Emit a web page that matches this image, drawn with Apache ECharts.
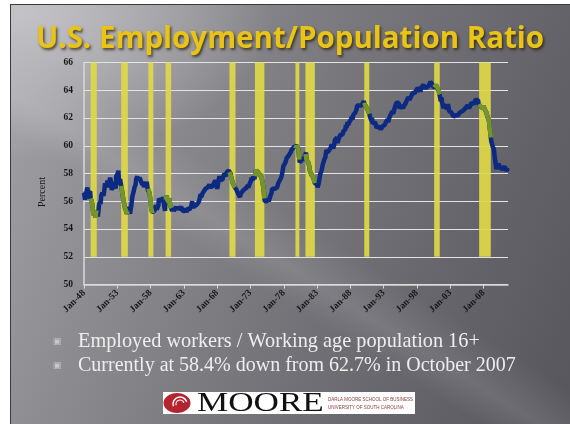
<!DOCTYPE html>
<html>
<head>
<meta charset="utf-8">
<script src="https://cdn.jsdelivr.net/npm/echarts@6/dist/echarts.min.js"></script>
<style>
html,body{margin:0;padding:0;background:#fff;}
#slide{position:absolute;left:10px;top:4px;width:560px;height:420px;box-sizing:border-box;
border-left:1px solid #3a3a3a;border-top:1px solid #3a3a3a;
background:
 radial-gradient(ellipse 45% 35% at 2% 2%, rgba(200,200,205,0.85) 0%, rgba(200,200,205,0) 100%),
 linear-gradient(32deg, rgba(255,255,255,0) 38%, rgba(255,255,255,0.10) 43%, rgba(255,255,255,0) 50%),
 linear-gradient(110deg, #a3a3a7 0%, #8d8d91 25%, #78777c 50%, #66656b 75%, #58565d 100%);}
#chart{position:absolute;left:0;top:0;width:570px;height:424px;}
</style>
</head>
<body>
<div id="slide"></div>
<div id="chart"></div>
<script>
// ---- Data (employment / population ratio, monthly, percent) ----
const epop1948_1949 = [56.6,56.7,56.1,56.7,56.2,56.8,57.0,56.6,56.6,56.5,56.6,56.7,
 56.2,56.2,56.0,55.7,55.4,55.0,55.0,55.1,55.2,54.8,55.3,55.2];
const epop1950s = [
 55.1,54.9,55.0,55.7,55.6,56.0,55.8,56.4,56.5,56.6,56.6,56.4,
 56.6,56.7,57.3,57.0,57.3,57.0,57.5,57.2,57.0,57.2,57.1,57.7,
 57.5,57.3,56.8,57.0,57.4,57.4,56.9,56.9,57.2,56.9,57.8,57.9,
 57.8,58.0,58.2,57.4,57.2,57.6,57.5,57.1,56.9,56.8,56.8,56.1,
 55.9,56.0,55.5,55.6,55.3,55.1,55.0,55.3,55.6,55.6,55.3,55.1,
 55.4,55.6,55.6,56.3,56.3,56.4,56.8,57.0,57.0,57.2,57.6,57.7,
 57.8,57.5,57.4,57.6,57.7,57.8,57.5,57.4,57.4,57.2,57.2,57.4,
 57.0,57.3,57.3,57.1,57.0,57.4,57.3,56.8,56.9,56.9,56.6,56.5,
 56.0,55.5,55.4,55.2,55.3,55.3,55.2,55.3,55.5,55.6,55.7,55.4,
 55.5,55.5,55.7,56.2,56.0,56.2,56.2,56.1,56.1,56.0,56.0,56.3];
const epop1960s = [
 55.8,55.7,55.3,56.1,56.0,56.4,56.1,56.2,56.2,55.9,56.2,55.8,
 55.6,55.5,55.6,55.3,55.3,55.5,55.3,55.3,55.3,55.4,55.6,55.4,
 55.4,55.6,55.7,55.4,55.5,55.5,55.3,55.6,55.6,55.5,55.3,55.4,
 55.2,55.2,55.3,55.5,55.4,55.2,55.5,55.5,55.5,55.5,55.4,55.5,
 55.4,55.6,55.7,56.0,55.9,55.5,55.7,55.6,55.6,55.8,55.7,55.8,
 55.8,55.8,55.9,55.9,56.1,56.0,56.5,56.3,56.3,56.3,56.6,56.7,
 56.7,56.6,56.6,56.9,56.8,56.8,56.8,57.0,57.0,57.0,57.2,57.3,
 57.0,57.0,56.9,56.9,57.1,57.2,57.3,57.4,57.3,57.5,57.6,57.6,
 56.9,57.1,57.4,57.5,57.8,57.8,57.5,57.4,57.4,57.4,57.6,57.8,
 57.7,58.0,57.9,57.9,57.8,58.1,58.0,58.1,58.0,58.2,58.1,58.1];
const epop1970s = [
 58.0,57.8,57.9,57.8,57.3,57.3,57.3,57.2,57.0,57.0,56.9,56.8,
 56.8,56.6,56.5,56.6,56.6,56.3,56.5,56.6,56.6,56.7,56.7,56.8,
 56.6,56.6,56.9,56.9,57.0,57.0,57.0,57.2,57.0,57.1,57.2,57.3,
 57.1,57.5,57.7,57.6,57.5,57.8,57.8,57.6,57.8,58.0,58.2,58.2,
 58.2,58.2,58.1,57.9,57.9,57.9,57.8,57.9,57.7,57.6,57.3,57.0,
 56.7,56.2,56.0,56.0,56.1,55.9,56.0,56.2,56.1,56.0,56.1,56.0,
 56.4,56.5,56.6,56.9,57.0,56.8,56.9,56.9,56.9,56.9,57.0,57.0,
 57.0,57.1,57.3,57.4,57.4,57.4,57.6,57.7,57.8,57.9,58.2,58.5,
 58.5,58.6,58.6,58.8,58.9,59.1,59.1,59.1,59.1,59.3,59.4,59.4,
 59.5,59.6,59.7,59.6,59.6,59.8,59.9,59.9,60.0,59.8,59.8,60.0];
const epop1980s = [
 60.0,60.0,59.8,59.4,59.0,58.8,58.7,58.9,58.9,59.0,59.1,59.0,
 59.0,59.1,59.3,59.4,59.5,59.0,59.1,59.1,58.8,58.9,58.5,58.2,
 58.2,58.1,57.9,57.8,58.0,57.7,57.7,57.6,57.3,57.3,57.2,57.2,
 57.2,57.0,57.0,57.3,57.3,57.8,58.0,58.1,58.2,58.3,58.6,58.6,
 58.7,59.0,59.0,59.2,59.5,59.7,59.6,59.5,59.6,59.6,59.7,59.8,
 59.8,59.9,60.1,60.0,60.0,59.8,59.9,60.1,60.4,60.3,60.3,60.5,
 60.6,60.2,60.4,60.5,60.6,60.7,60.8,60.7,60.8,60.8,60.8,61.0,
 60.9,61.0,61.1,61.2,61.5,61.3,61.5,61.7,61.5,61.6,61.7,61.8,
 61.8,61.9,61.8,62.1,61.9,62.2,62.2,62.2,62.3,62.4,62.5,62.6,
 62.9,62.8,62.8,62.8,62.9,63.0,63.0,63.0,62.9,63.0,63.0,63.0];
const epop1990s = [
 63.2,63.1,63.1,62.9,63.0,62.8,62.7,62.6,62.5,62.5,62.3,62.2,
 62.0,61.9,61.8,62.0,61.6,61.7,61.6,61.6,61.7,61.6,61.5,61.3,
 61.4,61.3,61.3,61.4,61.4,61.3,61.4,61.2,61.2,61.3,61.4,61.4,
 61.4,61.4,61.5,61.4,61.7,61.8,61.7,61.9,61.7,61.8,62.0,62.0,
 62.2,62.3,62.1,62.3,62.5,62.3,62.3,62.6,62.7,62.9,63.0,63.1,
 63.0,63.1,63.1,63.1,62.7,62.7,62.8,62.8,62.9,62.9,62.8,62.7,
 62.7,62.9,63.0,63.0,63.1,63.1,63.3,63.2,63.3,63.5,63.3,63.4,
 63.4,63.4,63.6,63.7,63.8,63.7,63.8,63.8,63.8,63.8,63.9,63.9,
 64.1,64.0,64.0,64.2,64.1,64.1,63.9,63.9,64.2,64.1,64.1,64.3,
 64.4,64.2,64.2,64.2,64.3,64.2,64.2,64.1,64.2,64.3,64.4,64.4];
const epop2000s = [
 64.6,64.6,64.6,64.7,64.4,64.5,64.2,64.2,64.2,64.2,64.3,64.4,
 64.4,64.3,64.3,64.0,63.8,63.7,63.7,63.2,63.5,63.2,63.0,62.9,
 62.7,63.0,62.8,62.7,62.9,62.7,62.7,62.7,63.0,62.7,62.5,62.4,
 62.5,62.5,62.4,62.4,62.3,62.3,62.1,62.1,62.0,62.1,62.2,62.2,
 62.3,62.3,62.2,62.3,62.3,62.4,62.5,62.4,62.3,62.3,62.5,62.4,
 62.4,62.4,62.4,62.7,62.8,62.7,62.8,62.9,62.8,62.8,62.7,62.8,
 62.9,63.0,63.1,63.1,63.1,63.1,63.0,63.1,63.1,63.3,63.3,63.4,
 63.3,63.3,63.3,63.0,63.0,63.0,62.9,62.8,62.9,62.7,62.9,62.7,
 62.9,62.7,62.7,62.7,62.6,62.4,62.3,62.1,62.0,61.9,61.7,61.3,
 61.0,60.6,60.3,60.2,60.0,59.9,59.8,59.6,59.2,58.9,58.7,58.3];
const epop2010s = [
 58.5,58.5,58.5,58.7,58.7,58.5,58.5,58.5,58.5,58.3,58.3,58.3,
 58.4,58.4,58.5,58.4,58.4,58.2,58.2,58.3,58.4];

// recession bars (start month, end month) as shown
const recessions = [
 ['Jan-49','Dec-49'],['Aug-53','Aug-54'],['Sep-57','Jun-58'],['Apr-60','Feb-61'],
 ['Nov-69','Oct-70'],['Sep-73','Feb-75'],['Oct-79','May-80'],['Apr-81','Sep-82'],
 ['Feb-90','Nov-90'],['Aug-00','Jun-01'],['May-07','Feb-09']];

const monthNames = ['Jan','Feb','Mar','Apr','May','Jun','Jul','Aug','Sep','Oct','Nov','Dec'];
const firstYear = 1948;
const yTicks = {min:50, max:66, step:2};
const titleText = 'U.S. Employment/Population Ratio';
const yName = 'Percent';
const bullets = ['Employed workers / Working age population 16+',
                 'Currently at 58.4% down from 62.7% in October 2007'];
const logoMain = 'MOORE';
const logoSub = ['DARLA MOORE SCHOOL OF BUSINESS','UNIVERSITY OF SOUTH CAROLINA'];

// ---- build ----
const values = [].concat(epop1948_1949, epop1950s, epop1960s, epop1970s, epop1980s, epop1990s, epop2000s, epop2010s);
const categories = values.map((v, i) => {
  const y = firstYear + Math.floor(i / 12);
  return monthNames[i % 12] + '-' + String(y % 100).padStart(2, '0');
});
const recIdx = recessions.map(r => [categories.indexOf(r[0]), categories.indexOf(r[1])]);
const inRecession = i => recIdx.some(r => i >= r[0] && i <= r[1]);
const recessionValues = values.map((v, i) => inRecession(i) ? v : null);

const chart = echarts.init(document.getElementById('chart'), null, {renderer:'canvas'});
const serif = '"Liberation Serif", "DejaVu Serif", serif';

chart.setOption({
  backgroundColor: 'transparent',
  animation: false,
  grid: {left: 84, right: 62, top: 62.5, bottom: 139.5, containLabel: false},
  xAxis: {
    type: 'category', data: categories, boundaryGap: false,
    axisLine: {show: true, lineStyle: {color: '#d8d8d8', width: 1.5}},
    axisTick: {show: true, interval: 59, length: 4, lineStyle: {color: '#d8d8d8'}},
    axisLabel: {interval: 59, rotate: 45, margin: 7, color: '#161616',
      fontFamily: serif, fontWeight: 'bold', fontSize: 9.5},
    splitLine: {show: false}
  },
  yAxis: {
    type: 'value', min: yTicks.min, max: yTicks.max, interval: yTicks.step,
    axisLine: {show: true, lineStyle: {color: '#d8d8d8', width: 1.5}},
    axisTick: {show: false},
    axisLabel: {margin: 11, color: '#161616', fontFamily: serif, fontWeight: 'bold', fontSize: 9.5},
    splitLine: {show: true, lineStyle: {color: '#e4e4e4', width: 1.2}}
  },
  series: [
    {
      type: 'custom', z: 1, silent: true,
      data: recIdx.map(r => [r[0], r[1], 52, 66]),
      encode: {x: [0, 1], y: [2, 3]},
      renderItem: function (params, api) {
        const a = api.coord([api.value(0), api.value(3)]);
        const b = api.coord([api.value(1), api.value(2)]);
        return {type: 'rect', shape: {x: a[0], y: a[1], width: b[0] - a[0], height: b[1] - a[1]},
          style: {fill: 'rgba(222,216,72,0.92)'}};
      }
    },
    {
      type: 'line', z: 3, data: values, showSymbol: false, smooth: false,
      lineStyle: {width: 4.5, color: '#0d2a82'}, itemStyle: {color: '#0d2a82'}
    },
    {
      type: 'line', z: 4, data: recessionValues, showSymbol: false, smooth: false, connectNulls: false,
      lineStyle: {width: 4.5, color: '#76942a'}, itemStyle: {color: '#76942a'}
    }
  ],
  graphic: [
    {type: 'text', x: 290, y: 40, z: 10,
      style: {text: titleText, font: 'bold 29.5px "Open Sans", sans-serif', fill: '#e9c416',
        textAlign: 'center', textVerticalAlign: 'middle',
        textShadowColor: 'rgba(40,30,0,0.75)', textShadowBlur: 3, textShadowOffsetX: 1.5, textShadowOffsetY: 2}},
    {type: 'text', x: 42, y: 192, rotation: Math.PI / 2,
      style: {text: yName, font: '10px ' + serif, fill: '#161616', textAlign: 'center', textVerticalAlign: 'middle'}},
    {type: 'text', x: 57, y: 342,
      style: {text: '▣', font: '9px "DejaVu Sans"', fill: '#c8c8c8', textAlign: 'center', textVerticalAlign: 'middle'}},
    {type: 'text', x: 57, y: 366,
      style: {text: '▣', font: '9px "DejaVu Sans"', fill: '#c8c8c8', textAlign: 'center', textVerticalAlign: 'middle'}},
    {type: 'text', x: 78, y: 342,
      style: {text: bullets[0], font: '20.3px ' + serif, fill: '#eeeeee', textVerticalAlign: 'middle'}},
    {type: 'text', x: 78, y: 366,
      style: {text: bullets[1], font: '20px ' + serif, fill: '#eeeeee', textVerticalAlign: 'middle'}},
    {type: 'group', children: [
      {type: 'rect', shape: {x: 163, y: 392, width: 252, height: 22}, style: {fill: '#ffffff'}},
      {type: 'ellipse', shape: {cx: 177, cy: 403, rx: 13.5, ry: 10}, style: {fill: '#b32430'}},
      {type: 'arc', shape: {cx: 180, cy: 404, r: 7, startAngle: Math.PI * 0.9, endAngle: Math.PI * 1.9}, style: {stroke: '#fff', lineWidth: 1.5, fill: null}},
      {type: 'arc', shape: {cx: 180, cy: 404, r: 4, startAngle: Math.PI * 0.9, endAngle: Math.PI * 1.9}, style: {stroke: '#fff', lineWidth: 1.2, fill: null}},
      {type: 'text', x: 197, y: 404, scaleX: 1.3, originX: 0,
        style: {text: logoMain, font: '27px ' + serif, fill: '#111', textVerticalAlign: 'middle'}},
      {type: 'text', x: 328, y: 399, scaleX: 0.75, originX: 0,
        style: {text: logoSub[0], font: '6px "Liberation Sans", sans-serif', fill: '#8a3a3a', textVerticalAlign: 'middle'}},
      {type: 'text', x: 328, y: 407, scaleX: 0.75, originX: 0,
        style: {text: logoSub[1], font: '6px "Liberation Sans", sans-serif', fill: '#8a3a3a', textVerticalAlign: 'middle'}}
    ]}
  ]
});
</script>
</body>
</html>
